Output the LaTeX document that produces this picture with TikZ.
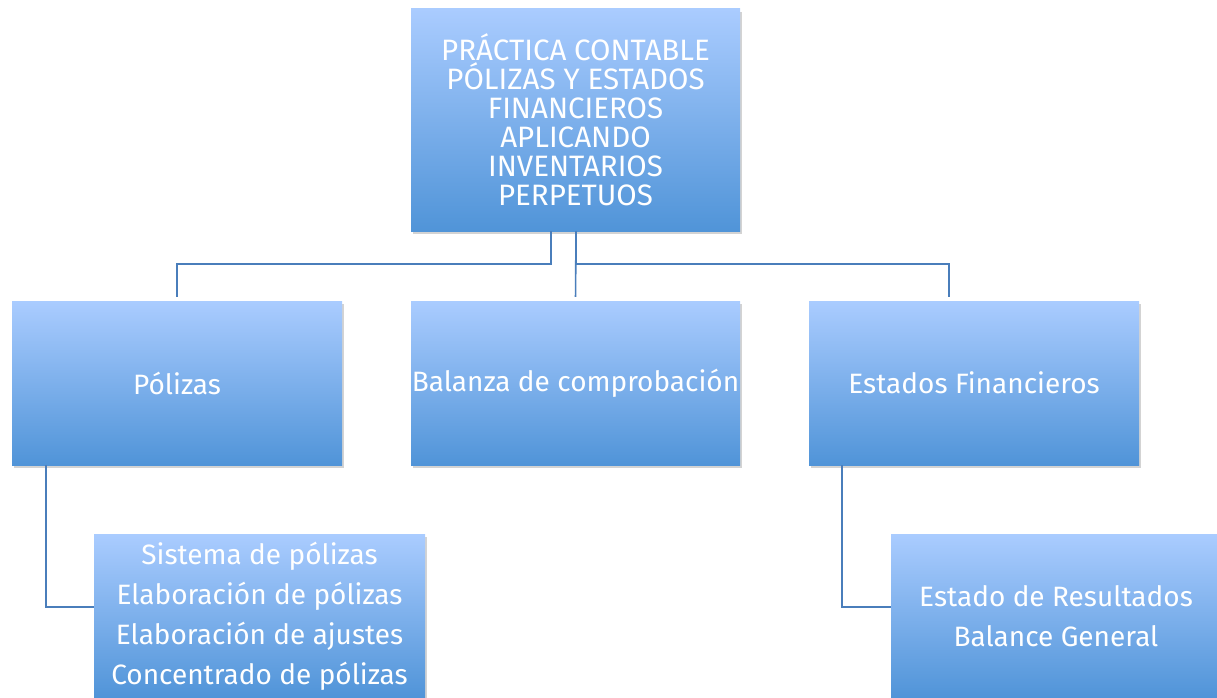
\documentclass[tikz,border=0pt]{standalone}
\usepackage{fontspec}
\setmainfont{Fira Sans}
\usetikzlibrary{shadows,calc}
\definecolor{boxtop}{RGB}{170,204,255}
\definecolor{boxbot}{RGB}{80,148,216}
\definecolor{linkc}{RGB}{74,126,187}
\tikzset{
  bluebox/.style={rectangle, inner sep=0pt, top color=boxtop, bottom color=boxbot, draw=none,
    text=white, align=center,
    drop shadow={opacity=0.35, shadow xshift=2pt, shadow yshift=-3pt}},
  link/.style={draw=linkc, line width=1.6pt}
}
\begin{document}
\begin{tikzpicture}[x=1pt,y=-1pt]
\useasboundingbox (0,0) rectangle (1217,698);
\clip (0,0) rectangle (1217,698);
\node[bluebox, minimum width=329pt, minimum height=222pt,
  font=\fontsize{29.5}{29}\selectfont] (top) at (575.5,120)
  {PRÁCTICA CONTABLE\\PÓLIZAS Y ESTADOS\\FINANCIEROS\\APLICANDO\\INVENTARIOS\\PERPETUOS};
\node[bluebox, minimum width=330pt, minimum height=164pt,
  font=\fontsize{28}{29}\selectfont] (pol) at (177,383) {Pólizas};
\node[bluebox, minimum width=329pt, minimum height=164pt,
  font=\fontsize{28}{29}\selectfont] (bal) at (575.5,383) {Balanza de comprobación};
\node[bluebox, minimum width=330pt, minimum height=164pt,
  font=\fontsize{28}{29}\selectfont] (est) at (974,383) {Estados Financieros};
\node[bluebox, minimum width=331pt, minimum height=164pt,
  font=\fontsize{28}{40}\selectfont] (subl) at (259.5,616)
  {Sistema de pólizas\\Elaboración de pólizas\\Elaboración de ajustes\\Concentrado de pólizas};
\node[bluebox, minimum width=330pt, minimum height=164pt,
  font=\fontsize{28}{40}\selectfont] (subr) at (1056,616)
  {Estado de Resultados\\Balance General};
% connectors
\coordinate (tl) at ($(top.south)+(-24.5,0)$);
\coordinate (tm) at ($(top.south)+(0.5,0)$);
\coordinate (pl) at ($(pol.south west)+(34,0)$);
\coordinate (el) at ($(est.south west)+(33,0)$);
\coordinate (sl) at ($(subl.west)+(0,-9)$);
\coordinate (sr) at ($(subr.west)+(0,-9)$);
\coordinate (en) at ($(est.north)+(-25,0)$);
\draw[link, shorten >=4pt] (tl) -- ++(0,33) -| (pol.north);
\draw[link, shorten >=4pt] (tm) -- (bal.north);
\draw[link, shorten >=4pt] (tm) -- ++(0,33) -| (en);
\draw[link] (pl) |- (sl);
\draw[link] (el) |- (sr);
\end{tikzpicture}
\end{document}
